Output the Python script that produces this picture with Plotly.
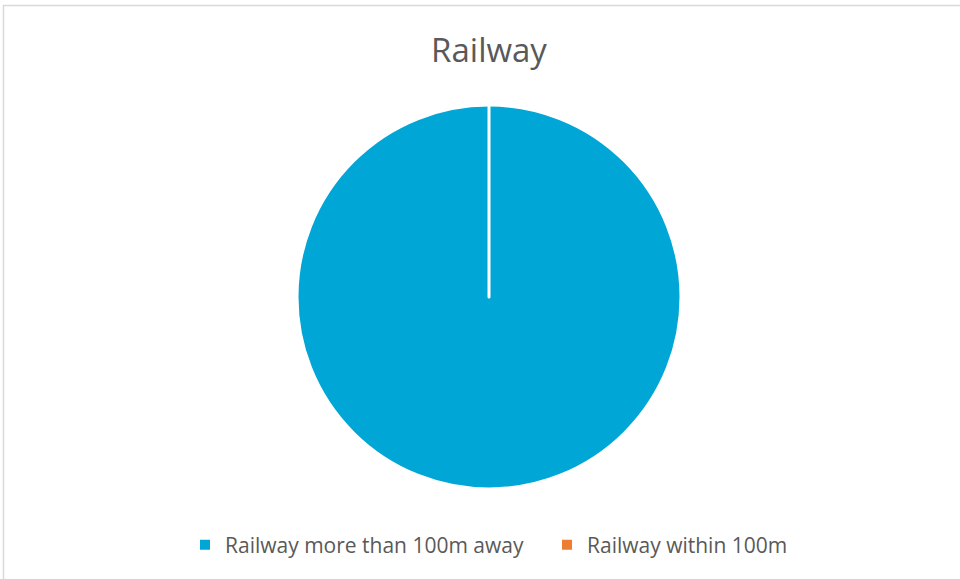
import plotly.graph_objects as go

title_text = "Railway"
labels = ["Railway more than 100m away", "Railway within 100m"]
values = [100, 0]
colors = ["#00A6D6", "#ED7D31"]

W, H = 960, 579
cx, cy, r = 489, 297, 192

fig = go.Figure(go.Pie(
    labels=labels,
    values=values,
    sort=False,
    direction="clockwise",
    rotation=0,
    textinfo="none",
    marker=dict(colors=colors, line=dict(color="white", width=3)),
    domain=dict(x=[(cx - r) / W, (cx + r) / W], y=[(H - cy - r) / H, (H - cy + r) / H]),
    showlegend=True,
))

fig.update_layout(
    width=W, height=H,
    margin=dict(l=0, r=0, t=0, b=0),
    paper_bgcolor="white",
    plot_bgcolor="white",
    title=dict(text=title_text, x=cx / W, xanchor="center", y=1 - 50 / H, yanchor="middle",
               font=dict(family="Open Sans", size=33, color="#595959")),
    legend=dict(orientation="h", x=185 / W, xanchor="left", y=1 - 545 / H, yanchor="middle",
                font=dict(family="Open Sans", size=21, color="#595959"),
                itemsizing="constant", itemwidth=30, tracegroupgap=0,
                entrywidth=317, entrywidthmode="pixels"),
    shapes=[dict(type="rect", xref="paper", yref="paper",
                 x0=3.5 / W, x1=1.05, y0=-0.05, y1=1 - 5.5 / H,
                 line=dict(color="#D9D9D9", width=1.5), fillcolor="rgba(0,0,0,0)", layer="below")],
)

fig.write_html("out.html", config={"displayModeBar": False},
               post_script="document.body.style.margin='0';document.body.style.overflow='hidden';")
